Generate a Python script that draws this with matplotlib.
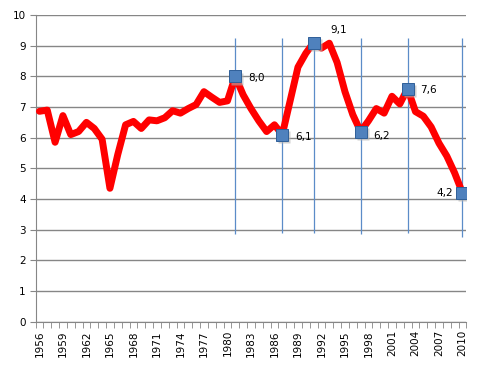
import matplotlib.pyplot as plt
import numpy as np

years = list(range(1956, 2011))
values = [6.86, 6.9, 5.85, 6.72, 6.1, 6.2, 6.5, 6.3, 5.95, 4.35,
          5.45, 6.42, 6.53, 6.3, 6.58, 6.55, 6.65, 6.88, 6.8, 6.95,
          7.08, 7.5, 7.32, 7.15, 7.2, 8.0, 7.4, 6.95, 6.55, 6.2,
          6.42, 6.1, 7.2, 8.3, 8.75, 9.1, 8.92, 9.08, 8.45, 7.5,
          6.75, 6.2, 6.55, 6.95, 6.8, 7.35, 7.1, 7.6, 6.85, 6.7,
          6.35, 5.82, 5.4, 4.85, 4.2]

marked_years = [1981, 1987, 1991, 1997, 2003, 2010]
marked_labels = ["8,0", "6,1", "9,1", "6,2", "7,6", "4,2"]
line_top = [9.25, 9.25, 9.25, 9.25, 9.25, 9.25]
line_bottom = [2.85, 2.9, 2.9, 2.85, 2.9, 2.75]

x = np.arange(len(years))
mx = [years.index(y) for y in marked_years]
my = [values[i] for i in mx]

fig = plt.figure(figsize=(4.82, 3.67), dpi=100)
ax = fig.add_axes([35.5/482, 1-321.7/367, (466.4-35.5)/482, (321.7-15)/367])

ax.vlines(mx, line_bottom, line_top, color="#5b8cc8", lw=0.9, zorder=2)
ax.plot(x, values, color="#ff0000", lw=5, solid_joinstyle="round",
        solid_capstyle="round", zorder=3)
# shadow + markers
ax.plot(np.array(mx)+0.25, np.array(my)-0.08, "s", ms=8.8, color="#b0b0b0",
        mec="none", alpha=0.6, zorder=4)
ax.plot(mx, my, "s", ms=8.8, color="#4f81bd", mec="#2f5f98", mew=0.7, zorder=5)

offsets = [(9, -1), (9, -2), (12, 9), (9, -3), (9, -1), (-7, 0)]
for i, lab, off in zip(mx, marked_labels, offsets):
    ax.annotate(lab, (i, values[i]), xytext=off, textcoords="offset points",
                ha="left" if off[0] > 0 else "right", va="center", fontsize=7.5)

ax.set_xlim(-0.5, len(years)-0.5)
ax.set_ylim(0, 10)
ax.set_yticks(range(0, 11))
ax.yaxis.grid(True, color="#868686", lw=1.0)
ax.set_axisbelow(True)

ax.set_xticks(x[::3])
ax.set_xticklabels([str(y) for y in years[::3]], rotation=90, fontsize=7.5)
ax.set_xticks(np.arange(-0.5, len(years)), minor=True)
ax.tick_params(axis="x", which="major", length=0, pad=6)
ax.tick_params(axis="x", which="minor", length=4, color="#868686", direction="out")
ax.tick_params(axis="y", length=4, color="#868686", labelsize=7.5, pad=3)

for s in ["top", "right"]:
    ax.spines[s].set_visible(False)
for s in ["left", "bottom"]:
    ax.spines[s].set_color("#868686")

fig.savefig("out.png", dpi=100)
